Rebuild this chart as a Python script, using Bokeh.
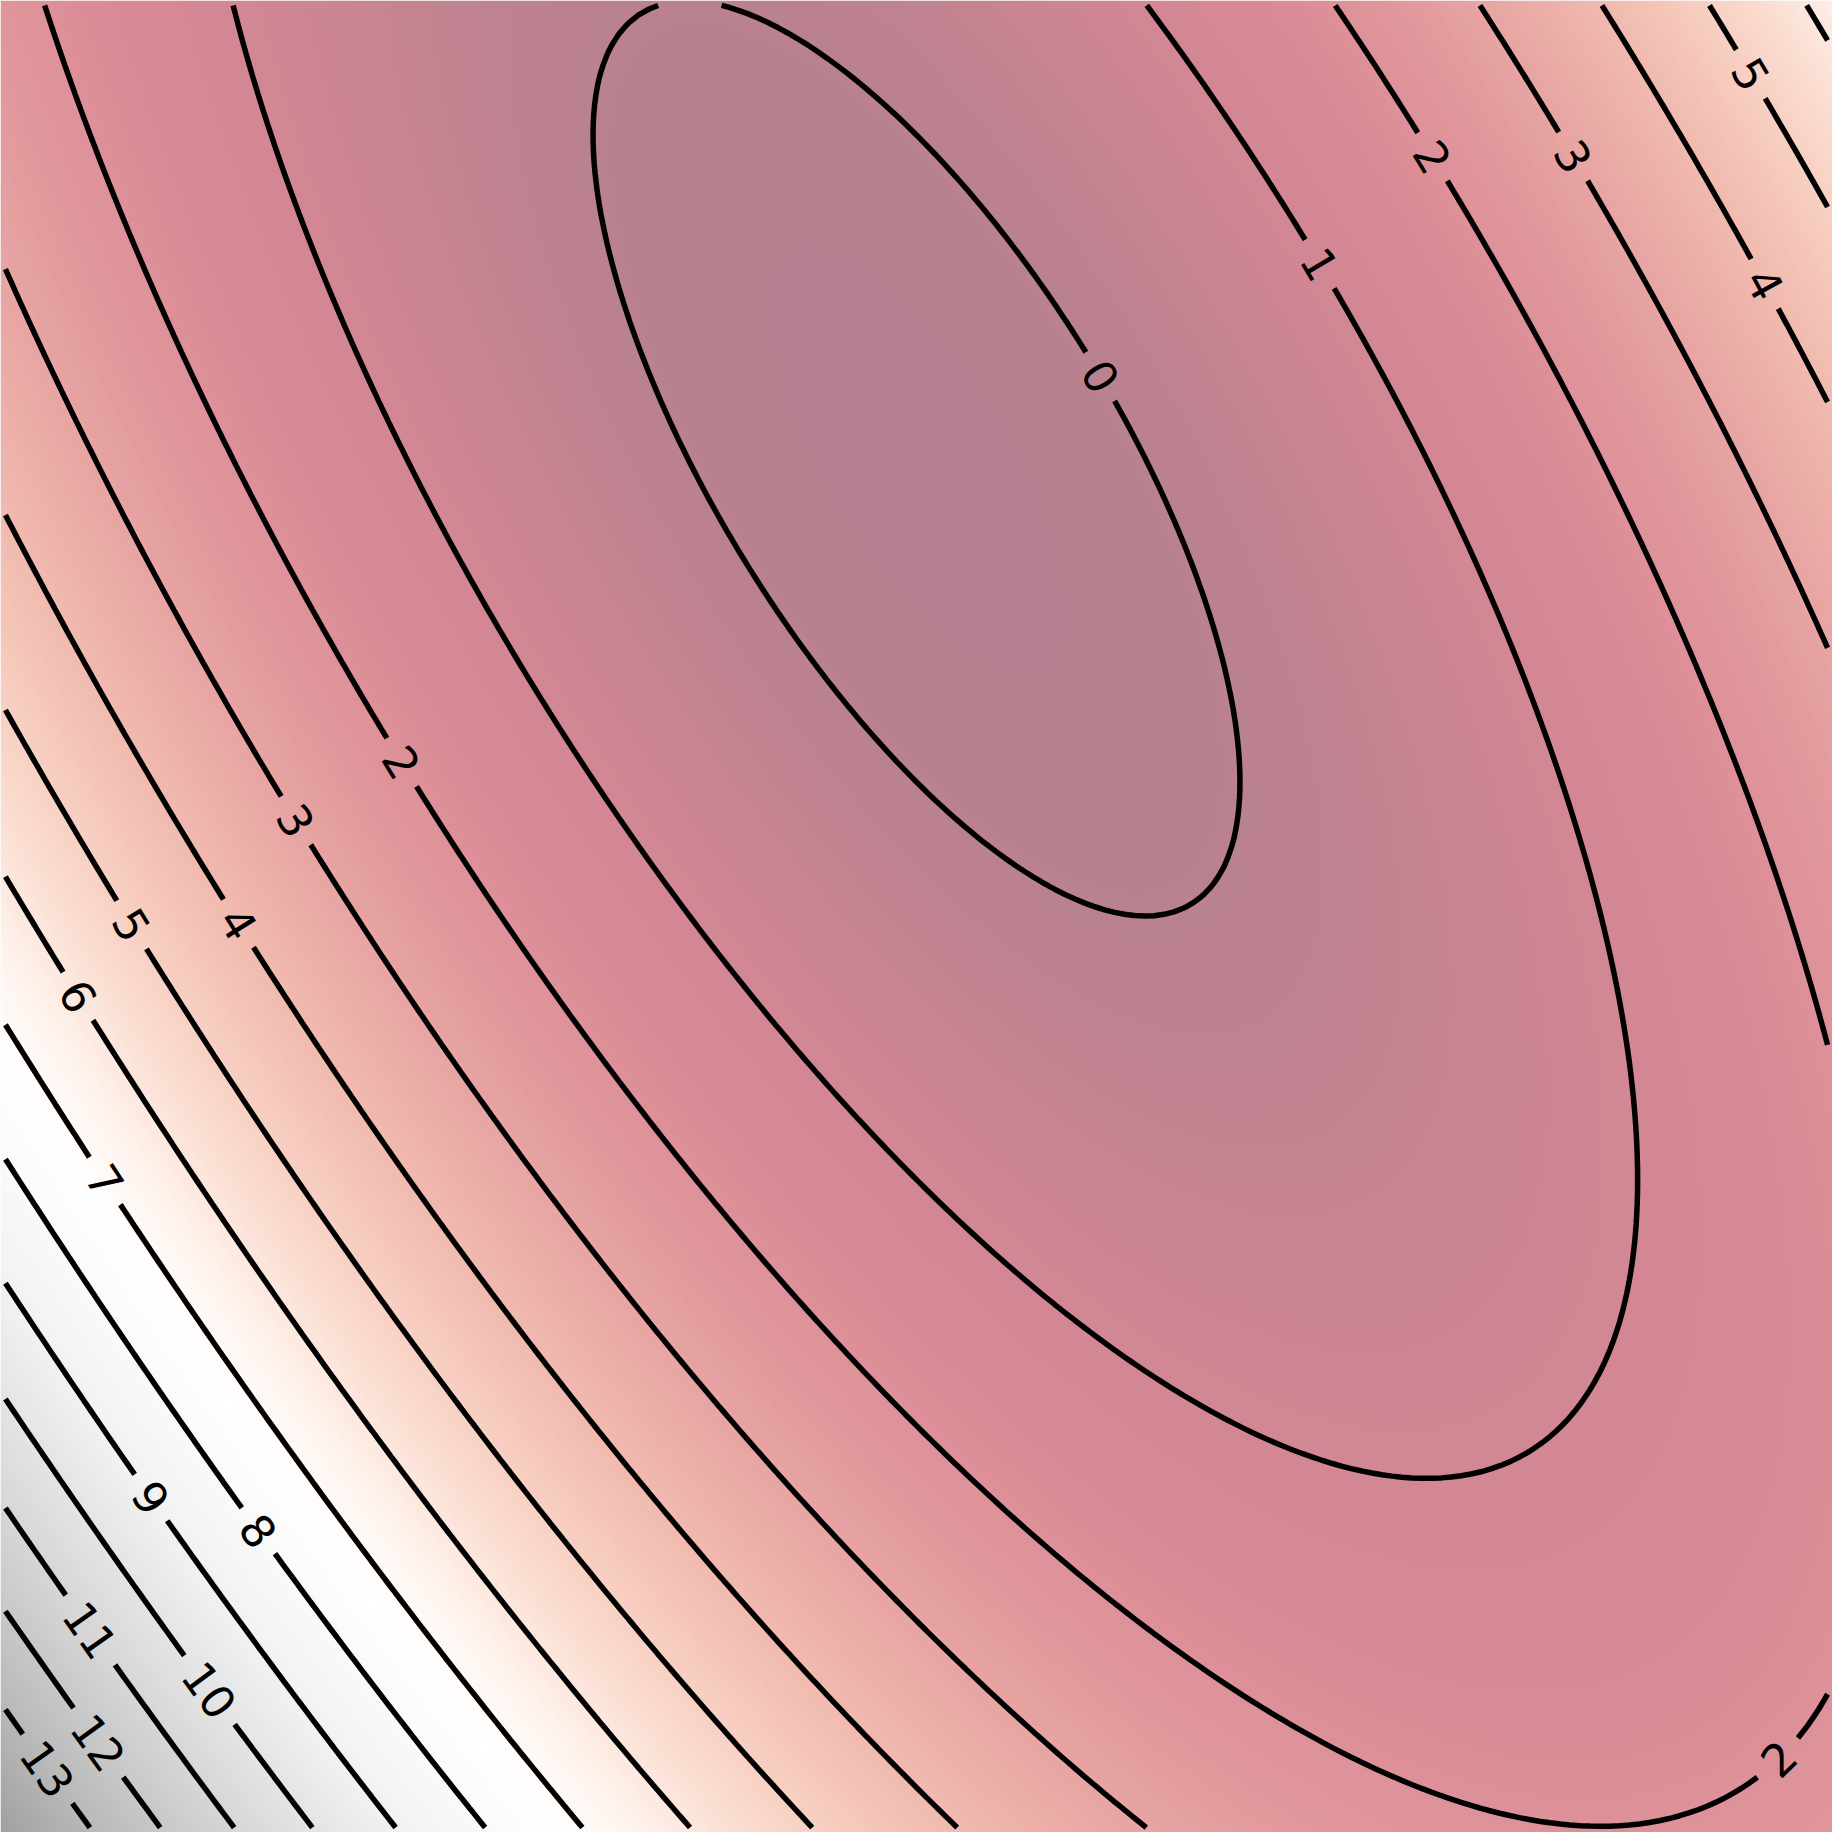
import numpy as np
import contourpy

from bokeh.core.properties import value
from bokeh.embed import file_html
from bokeh.models import LinearColorMapper, Range1d
from bokeh.plotting import figure
from bokeh.resources import INLINE

# Surface: f = a*x^2 + b*x*(y - y0) + c*(y - y0)^2 + f_min
coef_xx = 4.04
coef_xy = 4.04
coef_yy = 2.02
y_center = 0.5
f_min = -0.252

# Contour levels that are drawn and labelled
levels = [0, 1, 2, 3, 4, 5, 6, 7, 8, 9, 10, 11, 12, 13]

# Background colour ramp: surface value -> colour
stop_values = [-0.25, 0.75, 1.5, 2.5, 3.5, 4.5, 5.5, 6.5, 7.3, 9.0, 11.0, 13.0, 14.4]
stop_colors = ["#b47f8e", "#d08694", "#d98994", "#e29a9d", "#ecafa8", "#f5c5b7",
               "#fadccf", "#fef3ed", "#ffffff", "#f2f2f2", "#d7d7d7", "#b9b9b9",
               "#a0a0a0"]

# Label spots (level, x, y), snapped to the nearest point of that contour
label_spots = [
    (0, 0.205, 0.592), (1, 0.448, 0.717), (2, 0.571, 0.834), (3, 0.724, 0.834),
    (4, 0.932, 0.694), (5, 0.913, 0.921), (2, 0.935, -0.913), (2, -0.5625, 0.168),
    (3, -0.677, 0.105), (4, -0.741, -0.008), (5, -0.860, -0.011), (6, -0.917, -0.088),
    (7, -0.885, -0.288), (8, -0.719, -0.671), (9, -0.838, -0.636), (10, -0.770, -0.843),
    (11, -0.902, -0.779), (12, -0.892, -0.901), (13, -0.955, -0.935),
]

SIZE = 1832
PX_PER_UNIT = SIZE / 2.0
FONT_PX = 45


def surface(x, y):
    dy = y - y_center
    return coef_xx * x**2 + coef_xy * x * dy + coef_yy * dy**2 + f_min


# Background image on a fine grid
M = 600
xi = -1 + (np.arange(M) + 0.5) * 2.0 / M
XI, YI = np.meshgrid(xi, xi)
z_img = surface(XI, YI)

lo, hi = float(z_img.min()), float(z_img.max())
ramp = np.linspace(lo, hi, 256)
rgb = [[int(c[i:i + 2], 16) for i in (1, 3, 5)] for c in stop_colors]
rgb = np.array(rgb, dtype=float)
palette = []
for v in ramp:
    r, g, b = (np.interp(v, stop_values, rgb[:, k]) for k in range(3))
    palette.append("#%02x%02x%02x" % (int(round(r)), int(round(g)), int(round(b))))
mapper = LinearColorMapper(palette=palette, low=lo, high=hi)

# Contour lines on a coarser grid (pixel centres)
N = 185
xc = -1 + (np.arange(N) + 0.5) * 2.0 / N
XC, YC = np.meshgrid(xc, xc)
gen = contourpy.contour_generator(xc, xc, surface(XC, YC), line_type="Separate")

pieces = {lev: [np.asarray(l) for l in gen.lines(lev)] for lev in levels}


def nearest_on(piece, px, py):
    seg = piece[1:] - piece[:-1]
    seg_len2 = np.maximum((seg ** 2).sum(axis=1), 1e-14)
    t = ((px - piece[:-1, 0]) * seg[:, 0] + (py - piece[:-1, 1]) * seg[:, 1]) / seg_len2
    t = np.clip(t, 0, 1)
    proj = piece[:-1] + seg * t[:, None]
    d2 = ((proj - np.array([px, py])) ** 2).sum(axis=1)
    i = int(np.argmin(d2))
    return d2[i], i, t[i], proj[i], seg[i]


tx, ty, tt, ta = [], [], [], []
for lev, sx, sy in label_spots:
    best = None
    for k, piece in enumerate(pieces[lev]):
        if len(piece) < 2:
            continue
        d2, i, t, proj, seg = nearest_on(piece, sx, sy)
        if best is None or d2 < best[0]:
            best = (d2, k, i, t, proj, seg)
    if best is None:
        continue
    d2, k, i, t, proj, seg = best
    piece = pieces[lev][k]

    ang = np.arctan2(seg[1], seg[0])
    if ang > np.pi / 2:
        ang -= np.pi
    elif ang <= -np.pi / 2:
        ang += np.pi
    label = str(lev)
    tx.append(proj[0])
    ty.append(proj[1])
    tt.append(label)
    ta.append(ang)

    # cut a gap in the line around the label
    half_gap = (len(label) * 0.636 * FONT_PX / 2 + 14) / PX_PER_UNIT
    lens = np.sqrt(((piece[1:] - piece[:-1]) ** 2).sum(axis=1))
    s = np.concatenate([[0], np.cumsum(lens)])
    s0 = s[i] + t * lens[i]
    a, b = s0 - half_gap, s0 + half_gap
    new = []
    if a > 0:
        keep = piece[s < a]
        end = [np.interp(a, s, piece[:, 0]), np.interp(a, s, piece[:, 1])]
        new.append(np.vstack([keep, end]))
    if b < s[-1]:
        keep = piece[s > b]
        start = [np.interp(b, s, piece[:, 0]), np.interp(b, s, piece[:, 1])]
        new.append(np.vstack([start, keep]))
    pieces[lev] = pieces[lev][:k] + new + pieces[lev][k + 1:]

xs, ys = [], []
for lev in levels:
    for piece in pieces[lev]:
        if len(piece) >= 2:
            xs.append(piece[:, 0])
            ys.append(piece[:, 1])

p = figure(width=SIZE, height=SIZE,
           x_range=Range1d(-1, 1), y_range=Range1d(-1, 1),
           x_axis_location=None, y_axis_location=None,
           output_backend="svg", toolbar_location=None, min_border=0)
p.grid.visible = False
p.outline_line_color = None

p.image(image=[z_img], x=-1, y=-1, dw=2, dh=2, color_mapper=mapper)
p.multi_line(xs, ys, line_color="black", line_width=5.5, line_cap="butt")
p.text(x=tx, y=ty, text=tt, angle=ta,
       text_font=value("DejaVu Sans"), text_font_size="%dpx" % FONT_PX,
       text_align="center", text_baseline="middle", text_color="black")

open("out.html", "w").write(file_html(p, INLINE))
